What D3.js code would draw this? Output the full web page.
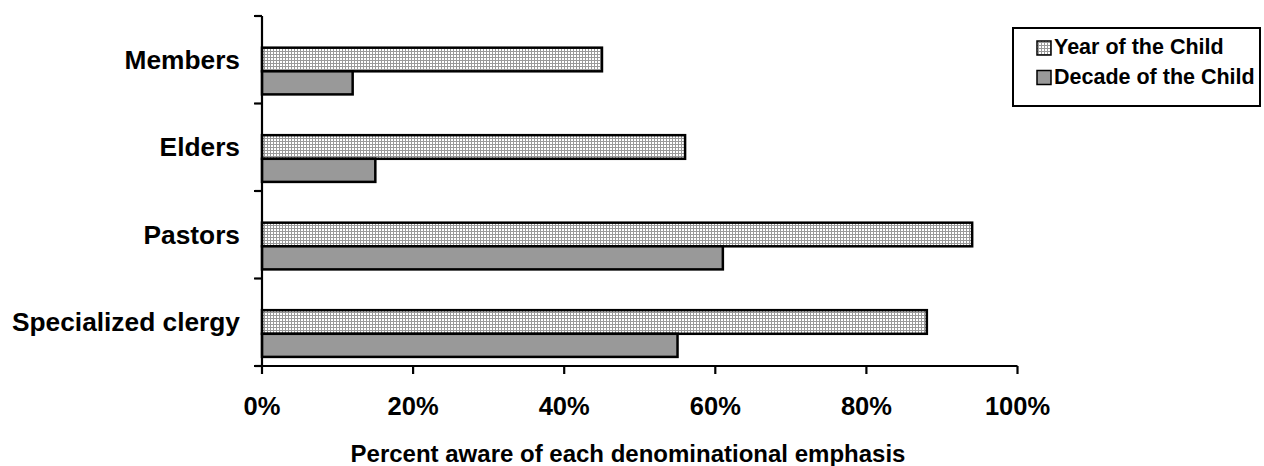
<!DOCTYPE html>
<html>
<head>
<meta charset="utf-8">
<script src="https://cdn.jsdelivr.net/npm/d3@7"></script>
<style>
  body { margin: 0; background: #fff; }
  text { font-family: Arial, "Liberation Sans", sans-serif; font-weight: bold; fill: #000; }
</style>
</head>
<body>
<svg id="chart" width="1264" height="466"></svg>
<script>
// Data
const categories = ["Members", "Elders", "Pastors", "Specialized clergy"];
const yearOfChild = [45, 56, 94, 88];
const decadeOfChild = [12, 15, 61, 55];
const seriesNames = ["Year of the Child", "Decade of the Child"];
const xTicks = [0, 20, 40, 60, 80, 100];

const svg = d3.select("#chart");

// dotted fill used for the first series
const defs = svg.append("defs");
const pat = defs.append("pattern")
    .attr("id", "dots")
    .attr("patternUnits", "userSpaceOnUse")
    .attr("width", 3)
    .attr("height", 3);
pat.append("rect").attr("width", 3).attr("height", 3).attr("fill", "#fff");
pat.append("rect").attr("width", 3).attr("height", 1).attr("fill", "#999");
pat.append("rect").attr("width", 1).attr("height", 3).attr("fill", "#999");

const fills = ["url(#dots)", "#999999"];

// Scales
const x = d3.scaleLinear().domain([0, 100]).range([262, 1017.5]);
const y = d3.scaleBand().domain(categories).range([16, 366]).padding(0);
const bw = y.bandwidth();

// bar placement inside each band (Excel style offsets)
const barTop = 0.362, barSplit = 0.632, barBottom = 0.896;

// Bars
const rows = categories.map((c, i) => ({cat: c, vals: [yearOfChild[i], decadeOfChild[i]]}));

const g = svg.append("g");
rows.forEach(r => {
    const y0 = y(r.cat);
    const bands = [[barTop, barSplit], [barSplit, barBottom]];
    r.vals.forEach((v, k) => {
        g.append("rect")
            .attr("x", x(0))
            .attr("y", y0 + bands[k][0] * bw)
            .attr("width", x(v) - x(0))
            .attr("height", (bands[k][1] - bands[k][0]) * bw)
            .attr("fill", fills[k])
            .attr("stroke", "#000")
            .attr("stroke-width", 2.5);
    });
});

// Y axis
svg.append("line")
    .attr("x1", x(0)).attr("x2", x(0))
    .attr("y1", 16).attr("y2", 366)
    .attr("stroke", "#000").attr("stroke-width", 2.2);
const yTickPos = categories.map(c => y(c)).concat([y(categories[categories.length - 1]) + bw]);
svg.selectAll(".ytick").data(yTickPos).enter().append("line")
    .attr("x1", x(0) - 8).attr("x2", x(0))
    .attr("y1", d => d).attr("y2", d => d)
    .attr("stroke", "#000").attr("stroke-width", 2.2);

svg.selectAll(".ylabel").data(categories).enter().append("text")
    .attr("x", 240)
    .attr("y", d => y(d) + bw / 2)
    .attr("dy", "0.35em")
    .attr("text-anchor", "end")
    .style("font-size", "26.3px")
    .text(d => d);

// X axis
svg.append("line")
    .attr("x1", x(0) - 8).attr("x2", x(100))
    .attr("y1", 366).attr("y2", 366)
    .attr("stroke", "#000").attr("stroke-width", 2.2);
svg.selectAll(".xtick").data(xTicks).enter().append("line")
    .attr("x1", d => x(d)).attr("x2", d => x(d))
    .attr("y1", 366).attr("y2", 374)
    .attr("stroke", "#000").attr("stroke-width", 2.2);
svg.selectAll(".xlabel").data(xTicks).enter().append("text")
    .attr("x", d => x(d))
    .attr("y", 415)
    .attr("text-anchor", "middle")
    .style("font-size", "25.5px")
    .text(d => d + "%");

// Axis title
svg.append("text")
    .attr("x", 628)
    .attr("y", 462)
    .attr("text-anchor", "middle")
    .style("font-size", "24px")
    .text("Percent aware of each denominational emphasis");

// Legend
const leg = svg.append("g");
leg.append("rect")
    .attr("x", 1013).attr("y", 28)
    .attr("width", 247).attr("height", 78)
    .attr("fill", "#fff")
    .attr("stroke", "#000").attr("stroke-width", 2);
seriesNames.forEach((s, k) => {
    const yy = 41 + k * 29.5;
    leg.append("rect")
        .attr("x", 1037).attr("y", yy)
        .attr("width", 14).attr("height", 14)
        .attr("fill", fills[k])
        .attr("stroke", "#000").attr("stroke-width", 1.5);
    leg.append("text")
        .attr("x", 1054).attr("y", yy + 13)
        .style("font-size", "21.5px")
        .text(s);
});
</script>
</body>
</html>
